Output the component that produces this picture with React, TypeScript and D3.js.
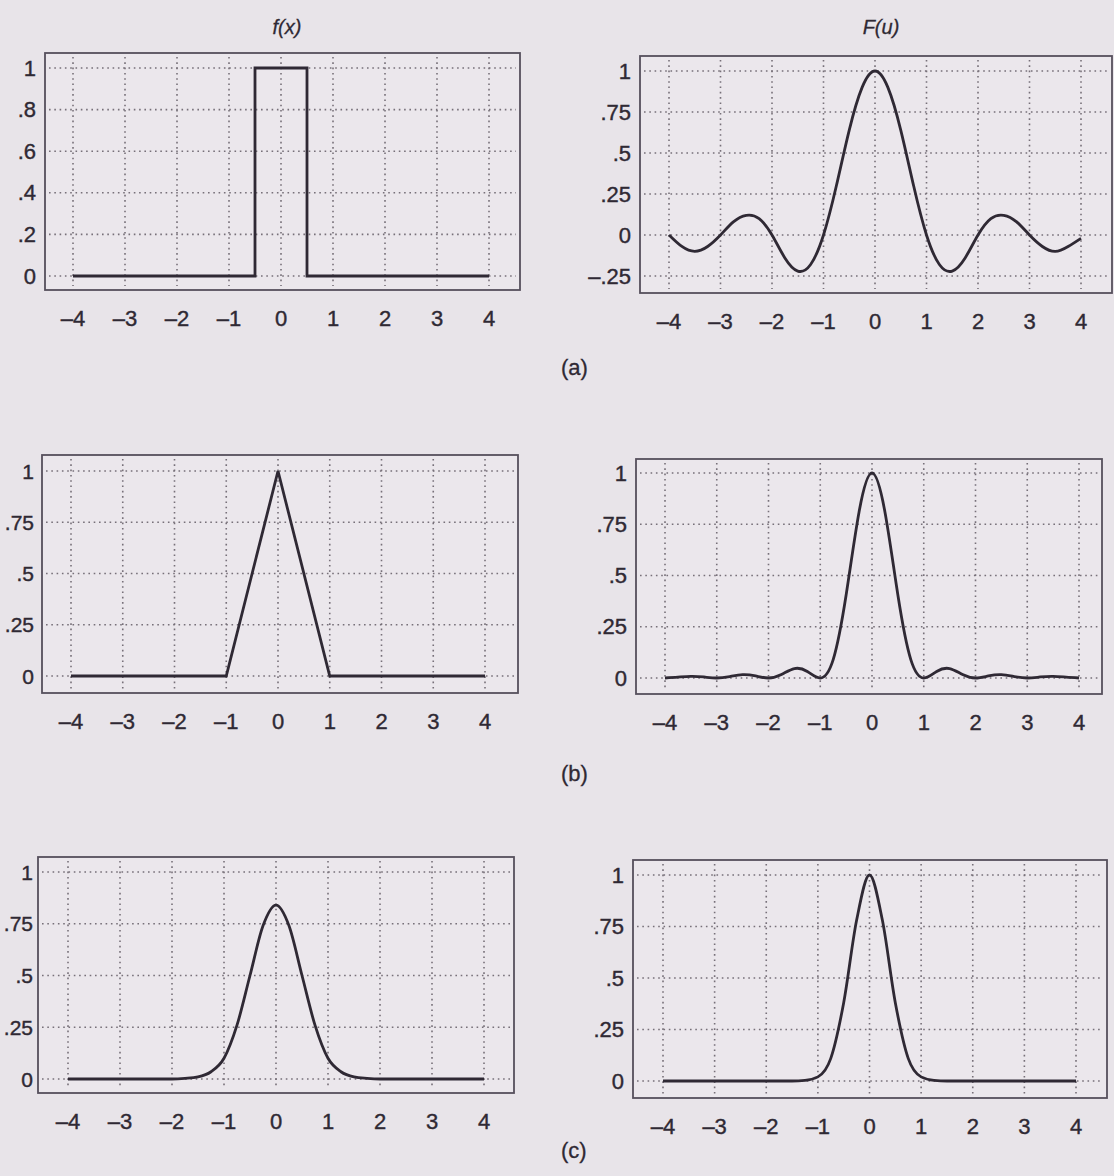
import React from 'react';
import * as d3 from 'd3';

// ---------- data ----------
const X_TICKS = [-4, -3, -2, -1, 0, 1, 2, 3, 4];
const X_TICK_LABELS = ['\u20134', '\u20133', '\u20132', '\u20131', '0', '1', '2', '3', '4'];

const Y_TICKS_FX = [0, 0.2, 0.4, 0.6, 0.8, 1];
const Y_LABELS_FX = ['0', '.2', '.4', '.6', '.8', '1'];
const Y_TICKS_SINC = [-0.25, 0, 0.25, 0.5, 0.75, 1];
const Y_LABELS_SINC = ['\u2013.25', '0', '.25', '.5', '.75', '1'];
const Y_TICKS_Q = [0, 0.25, 0.5, 0.75, 1];
const Y_LABELS_Q = ['0', '.25', '.5', '.75', '1'];

const RECT_X = [-4, -0.5, -0.5, 0.5, 0.5, 4];
const RECT_Y = [0, 0, 1, 1, 0, 0];

const TRI_X = [-4, -1, 0, 1, 4];
const TRI_Y = [0, 0, 1, 0, 0];

const U = [-4, -3.75, -3.5, -3.25, -3, -2.75, -2.5, -2.25, -2, -1.75, -1.5, -1.25, -1, -0.75, -0.5, -0.25,
  0, 0.25, 0.5, 0.75, 1, 1.25, 1.5, 1.75, 2, 2.25, 2.5, 2.75, 3, 3.25, 3.5, 3.75, 4];

const SINC_F = [0, -0.07, -0.1, -0.07, 0, 0.08, 0.12, 0.1, 0, -0.14, -0.22, -0.18, 0, 0.3, 0.64, 0.9,
  1, 0.9, 0.64, 0.3, 0, -0.18, -0.22, -0.14, 0, 0.1, 0.12, 0.08, 0, -0.07, -0.1, -0.07, -0.02];

const SINC2_F = [0, 0.004, 0.008, 0.005, 0, 0.007, 0.016, 0.01, 0, 0.017, 0.046, 0.032, 0, 0.09, 0.405, 0.81,
  1, 0.81, 0.405, 0.09, 0, 0.032, 0.046, 0.017, 0, 0.01, 0.016, 0.007, 0, 0.005, 0.008, 0.004, 0];

const GAUSS_F = [0, 0, 0, 0, 0, 0, 0, 0, 0, 0.003, 0.01, 0.035, 0.1, 0.26, 0.5, 0.74,
  0.84, 0.74, 0.5, 0.26, 0.1, 0.035, 0.01, 0.003, 0, 0, 0, 0, 0, 0, 0, 0, 0];

const GAUSS_FU = [0, 0, 0, 0, 0, 0, 0, 0, 0, 0, 0, 0.003, 0.02, 0.11, 0.38, 0.78,
  1, 0.78, 0.38, 0.11, 0.02, 0.003, 0, 0, 0, 0, 0, 0, 0, 0, 0, 0, 0];

const ROW_LABELS = ['(a)', '(b)', '(c)'];
const TITLES = ['f(x)', 'F(u)'];

// ---------- layout ----------
type CurveKind = 'linear' | 'natural' | 'monotone';
type Panel = {
  frame: [number, number, number, number];
  xr: [number, number];
  y0: number;
  y1: number;
  yTicks: number[];
  yLabels: string[];
  xs: number[];
  ys: number[];
  curve: CurveKind;
  labelGap: number;
  title?: string;
};

const PANELS: Panel[] = [
  { frame: [45, 53, 520, 290], xr: [73, 489], y0: 276, y1: 68, yTicks: Y_TICKS_FX, yLabels: Y_LABELS_FX, xs: RECT_X, ys: RECT_Y, curve: 'linear', labelGap: 9, title: TITLES[0] },
  { frame: [640, 56, 1112, 293], xr: [669, 1081], y0: 235, y1: 71, yTicks: Y_TICKS_SINC, yLabels: Y_LABELS_SINC, xs: U, ys: SINC_F, curve: 'natural', labelGap: 9, title: TITLES[1] },
  { frame: [42, 455, 518, 693], xr: [71, 485], y0: 676, y1: 471, yTicks: Y_TICKS_Q, yLabels: Y_LABELS_Q, xs: TRI_X, ys: TRI_Y, curve: 'linear', labelGap: 8 },
  { frame: [636, 459, 1102, 694], xr: [665, 1079], y0: 678, y1: 473, yTicks: Y_TICKS_Q, yLabels: Y_LABELS_Q, xs: U, ys: SINC2_F, curve: 'natural', labelGap: 9 },
  { frame: [38, 857, 514, 1093], xr: [68, 484], y0: 1079, y1: 872, yTicks: Y_TICKS_Q, yLabels: Y_LABELS_Q, xs: U, ys: GAUSS_F, curve: 'monotone', labelGap: 5 },
  { frame: [633, 860, 1107, 1098], xr: [663, 1076], y0: 1081, y1: 875, yTicks: Y_TICKS_Q, yLabels: Y_LABELS_Q, xs: U, ys: GAUSS_FU, curve: 'monotone', labelGap: 9 },
];

const ROW_LABEL_POS: [number, number][] = [[561, 367], [561, 773], [561, 1150]];

const BG = '#e8e4e9';
const INK = '#2f2934';
const FRAME = '#564f5c';
const GRID = '#777079';
const FONT = '"Liberation Sans", Arial, Helvetica, sans-serif';

const CURVES = {
  linear: d3.curveLinear,
  natural: d3.curveNatural,
  monotone: d3.curveMonotoneX,
};

function PanelView({ p }: { p: Panel }) {
  const [l, t, r, b] = p.frame;
  const x = d3.scaleLinear().domain([-4, 4]).range(p.xr);
  const y = d3.scaleLinear().domain([0, 1]).range([p.y0, p.y1]);
  const pts: [number, number][] = p.xs.map((v, i) => [v, p.ys[i]]);
  const line = d3
    .line<[number, number]>()
    .x((d) => x(d[0]))
    .y((d) => y(d[1]))
    .curve(CURVES[p.curve]);
  const fs = p.labelGap < 9 ? 21 : 22;
  return (
    <g>
      <rect x={l} y={t} width={r - l} height={b - t} fill="#ebe7ec" />
      {X_TICKS.map((v) => (
        <line key={'gx' + v} x1={x(v)} x2={x(v)} y1={t + 4} y2={b - 4}
          stroke={GRID} strokeWidth={1.6} strokeDasharray="1.6 3.7" />
      ))}
      {p.yTicks.map((v) => (
        <line key={'gy' + v} x1={l + 4} x2={r - 4} y1={y(v)} y2={y(v)}
          stroke={GRID} strokeWidth={1.6} strokeDasharray="1.6 3.7" />
      ))}
      <rect x={l} y={t} width={r - l} height={b - t} fill="none" stroke={FRAME} strokeWidth={1.8} />
      <path d={line(pts) || ''} fill="none" stroke={INK} strokeWidth={2.8} strokeLinejoin="miter" />
      {X_TICKS.map((v, i) => (
        <text key={'xl' + v} x={x(v)} y={b + 28} textAnchor="middle" dominantBaseline="central"
          fontFamily={FONT} fontSize={22} fill={INK} stroke={INK} strokeWidth={0.4}>{X_TICK_LABELS[i]}</text>
      ))}
      {p.yTicks.map((v, i) => (
        <text key={'yl' + v} x={l - p.labelGap} y={y(v)} textAnchor="end" dominantBaseline="central"
          fontFamily={FONT} fontSize={fs} fill={INK} stroke={INK} strokeWidth={0.4}>{p.yLabels[i]}</text>
      ))}
      {p.title && (
        <text x={x(0) + 6} y={27} textAnchor="middle" dominantBaseline="central"
          fontFamily={FONT} fontSize={20} fontStyle="italic" fill={INK} stroke={INK} strokeWidth={0.3}>{p.title}</text>
      )}
    </g>
  );
}

export default function App() {
  return (
    <svg width={1114} height={1176} viewBox="0 0 1114 1176"
      style={{ position: 'absolute', left: 0, top: 0, display: 'block' }}>
      <rect x={0} y={0} width={1114} height={1176} fill={BG} />
      {PANELS.map((p, i) => (
        <PanelView key={i} p={p} />
      ))}
      {ROW_LABELS.map((s, i) => (
        <text key={s} x={ROW_LABEL_POS[i][0]} y={ROW_LABEL_POS[i][1]} dominantBaseline="central"
          fontFamily={FONT} fontSize={22} fill={INK} stroke={INK} strokeWidth={0.3}>{s}</text>
      ))}
    </svg>
  );
}
